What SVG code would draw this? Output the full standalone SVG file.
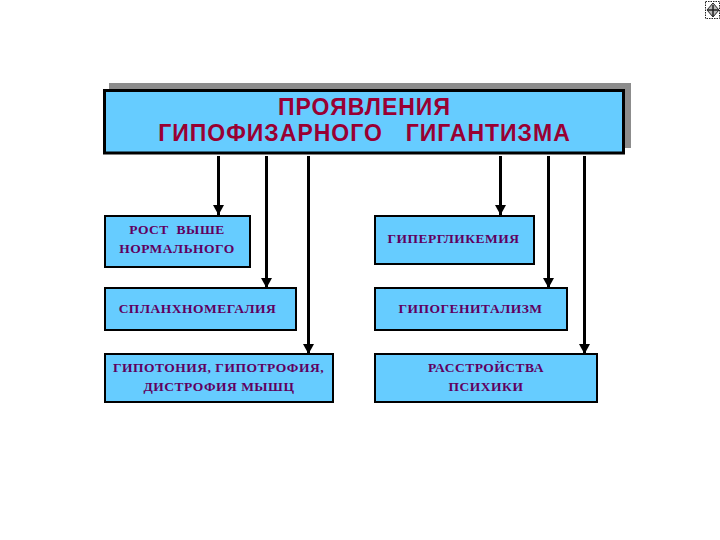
<svg xmlns="http://www.w3.org/2000/svg" width="720" height="540" viewBox="0 0 720 540">
<style>
.box{fill:#66ccff;stroke:#000;stroke-width:2}
.title{font:bold 23px "Liberation Sans",Arial,sans-serif;fill:#990033;text-anchor:middle;letter-spacing:1px}
.lbl{font:bold 13.500px "Liberation Serif","Times New Roman",serif;fill:#600060;text-anchor:middle;letter-spacing:.5px}
.conn{fill:none;stroke:#000;stroke-width:3;marker-end:url(#arr)}
</style>
<defs>
<marker id="arr" markerUnits="userSpaceOnUse" markerWidth="11" markerHeight="12" refX="10" refY="6" orient="auto"><path d="M0 .5L10 6L0 11.500Z" fill="#000"/></marker>
</defs>
<rect width="720" height="540" fill="#fff"/>
<g id="icon" fill="none" stroke="#222" stroke-width="1">
<rect x="705.500" y="1.500" width="14" height="17" stroke-dasharray="1.500 1"/>
<path d="M713 3L719 10L713 17L707 10Z" fill="#bbb"/>
<path d="M713 5V16M708 10H718" stroke-width="1.500"/>
</g>
<g id="main">
<rect x="109" y="83" width="522" height="65" fill="#8c8c8c"/>
<rect x="104.500" y="90.500" width="519" height="62.500" fill="#66ccff" stroke="#000" stroke-width="3"/>
<text class="title" x="364.500" y="114.500">ПРОЯВЛЕНИЯ</text>
<text class="title" x="364.500" y="141" xml:space="preserve" word-spacing="4px">ГИПОФИЗАРНОГО  ГИГАНТИЗМА</text>
</g>
<g id="n1"><rect class="box" x="105" y="216" width="145" height="51"/>
<text class="lbl" x="177" y="234" xml:space="preserve">РОСТ  ВЫШЕ</text><text class="lbl" x="177" y="253">НОРМАЛЬНОГО</text></g>
<g id="n2"><rect class="box" x="105" y="288" width="191" height="42"/>
<text class="lbl" x="197.500" y="313">СПЛАНХНОМЕГАЛИЯ</text></g>
<g id="n3"><rect class="box" x="105" y="354" width="228" height="48"/>
<text class="lbl" x="218.500" y="372">ГИПОТОНИЯ, ГИПОТРОФИЯ,</text><text class="lbl" x="219" y="391">ДИСТРОФИЯ МЫШЦ</text></g>
<g id="n4"><rect class="box" x="375" y="216" width="159" height="48"/>
<text class="lbl" x="453.500" y="243">ГИПЕРГЛИКЕМИЯ</text></g>
<g id="n5"><rect class="box" x="375" y="288" width="192" height="42"/>
<text class="lbl" x="470.500" y="313">ГИПОГЕНИТАЛИЗМ</text></g>
<g id="n6"><rect class="box" x="375" y="354" width="222" height="48"/>
<text class="lbl" x="486" y="372">РАССТРОЙСТВА</text><text class="lbl" x="486" y="391">ПСИХИКИ</text></g>
<g id="connectors">
<path class="conn" d="M218.500 156V215"/>
<path class="conn" d="M266.500 156V288"/>
<path class="conn" d="M308.500 156V354"/>
<path class="conn" d="M500.500 156V215"/>
<path class="conn" d="M548.500 156V288"/>
<path class="conn" d="M584.500 156V354"/>
</g>
</svg>
